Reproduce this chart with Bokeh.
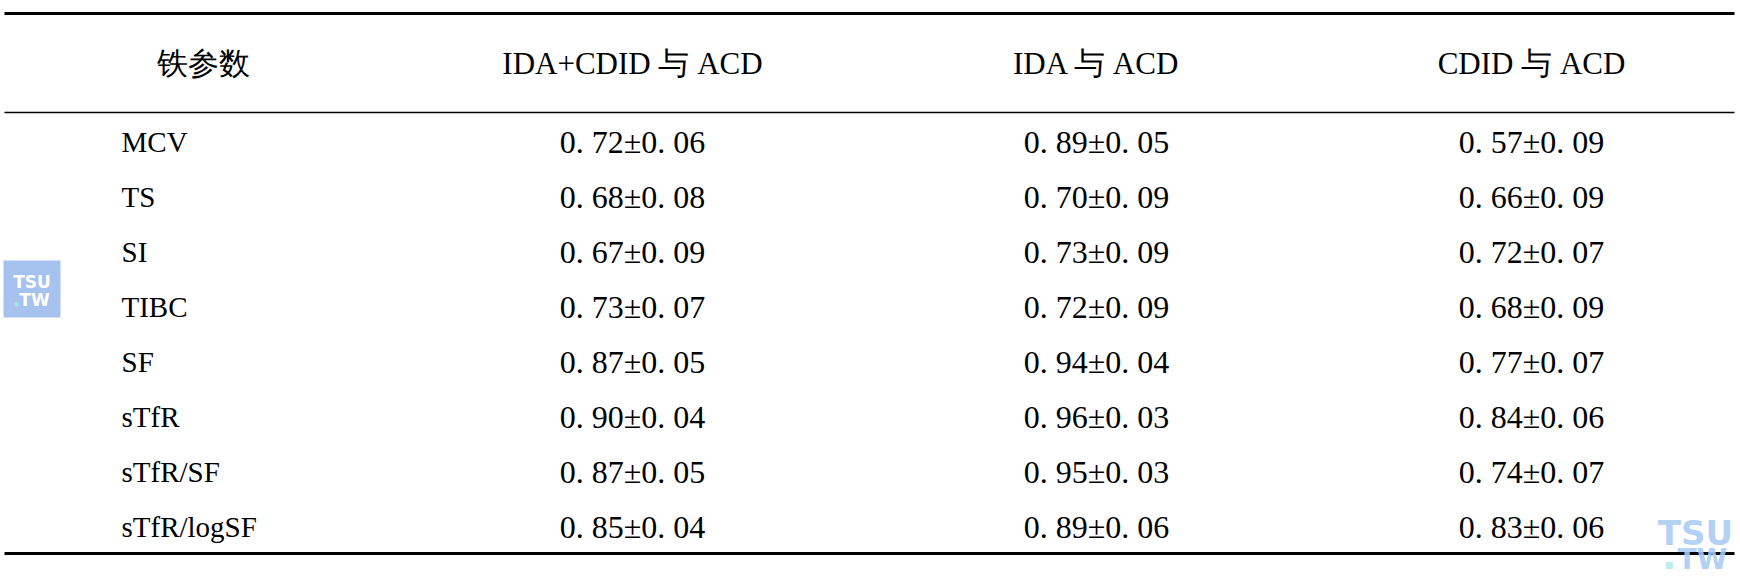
from bokeh.plotting import figure
from bokeh.models import Range1d, ColumnDataSource
from bokeh.core.properties import value
from bokeh.embed import file_html
from bokeh.resources import INLINE

# ---- data ----
headers = ["铁参数", "IDA+CDID 与 ACD", "IDA 与 ACD", "CDID 与 ACD"]
params = ["MCV", "TS", "SI", "TIBC", "SF", "sTfR", "sTfR/SF", "sTfR/logSF"]
auc_all = [0.72, 0.68, 0.67, 0.73, 0.87, 0.90, 0.87, 0.85]
sd_all = [0.06, 0.08, 0.09, 0.07, 0.05, 0.04, 0.05, 0.04]
auc_ida = [0.89, 0.70, 0.73, 0.72, 0.94, 0.96, 0.95, 0.89]
sd_ida = [0.05, 0.09, 0.09, 0.09, 0.04, 0.03, 0.03, 0.06]
auc_cdid = [0.57, 0.66, 0.72, 0.68, 0.77, 0.84, 0.74, 0.83]
sd_cdid = [0.09, 0.09, 0.07, 0.09, 0.07, 0.06, 0.07, 0.06]


def fmt(v):
    return f"{v:.2f}".replace(".", ". ")


def cell(a, s):
    return f"{fmt(a)}±{fmt(s)}"


# ---- layout (pixel coordinates) ----
W, H = 1740, 578
p = figure(width=W, height=H, output_backend="svg", toolbar_location=None,
           x_range=Range1d(0, W), y_range=Range1d(H, 0),
           min_border=0, outline_line_color=None, background_fill_color="white",
           border_fill_color="white")
p.xaxis.visible = False
p.yaxis.visible = False
p.xgrid.visible = False
p.ygrid.visible = False

FONT = value("Liberation Serif")

col_x = [203, 632, 1096, 1531]
header_y = 63
row0_y = 141
row_step = 55.1
row_y = [row0_y + i * row_step for i in range(len(params))]

# rules
x0, x1 = 4, 1734
p.segment(x0=[x0], y0=[13], x1=[x1], y1=[13], line_color="black", line_width=3)
p.segment(x0=[x0], y0=[112], x1=[x1], y1=[112], line_color="black", line_width=1.5)
p.segment(x0=[x0], y0=[553], x1=[x1], y1=[553], line_color="black", line_width=3)

# header
p.text(x=col_x, y=[header_y] * 4, text=headers, text_font=FONT, text_font_size="31px",
       text_align="center", text_baseline="middle", text_color="black")

# row labels
p.text(x=[121] * len(params), y=row_y, text=params, text_font=FONT, text_font_size="29px",
       text_align="left", text_baseline="middle", text_color="black")

# cells
for cx, a_list, s_list in [(col_x[1], auc_all, sd_all), (col_x[2], auc_ida, sd_ida),
                           (col_x[3], auc_cdid, sd_cdid)]:
    src = ColumnDataSource(dict(x=[cx] * len(a_list), y=row_y,
                                t=[cell(a, s) for a, s in zip(a_list, s_list)]))
    p.text(x="x", y="y", text="t", source=src, text_font=FONT, text_font_size="32px",
           text_align="center", text_baseline="middle", text_color="black")

# watermark (left square)
p.quad(left=[3], right=[60], top=[260], bottom=[317], fill_color="#a6c3ef", line_color=None)
WMF = value("DejaVu Sans")
p.text(x=[31.5], y=[281], text=["TSU"], text_font=WMF, text_font_size="17px",
       text_font_style="bold", text_align="center", text_baseline="middle", text_color="white")
p.text(x=[34], y=[299], text=["TW"], text_font=WMF, text_font_size="17px",
       text_font_style="bold", text_align="center", text_baseline="middle", text_color="white")
p.rect(x=[16], y=[304], width=4, height=4, fill_color="#9fe6e6", line_color=None)

# watermark (bottom right)
p.text(x=[1695], y=[532], text=["TSU"], text_font=WMF, text_font_size="34px",
       text_font_style="bold", text_align="center", text_baseline="middle",
       text_color="#a9cbf3", text_alpha=0.9)
p.text(x=[1702], y=[559], text=["TW"], text_font=WMF, text_font_size="28px",
       text_font_style="bold", text_align="center", text_baseline="middle",
       text_color="#a9cbf3", text_alpha=0.9)
p.rect(x=[1669], y=[565], width=7, height=7, fill_color="#bfeeee", line_color=None)

open("out.html", "w").write(file_html(p, INLINE))
